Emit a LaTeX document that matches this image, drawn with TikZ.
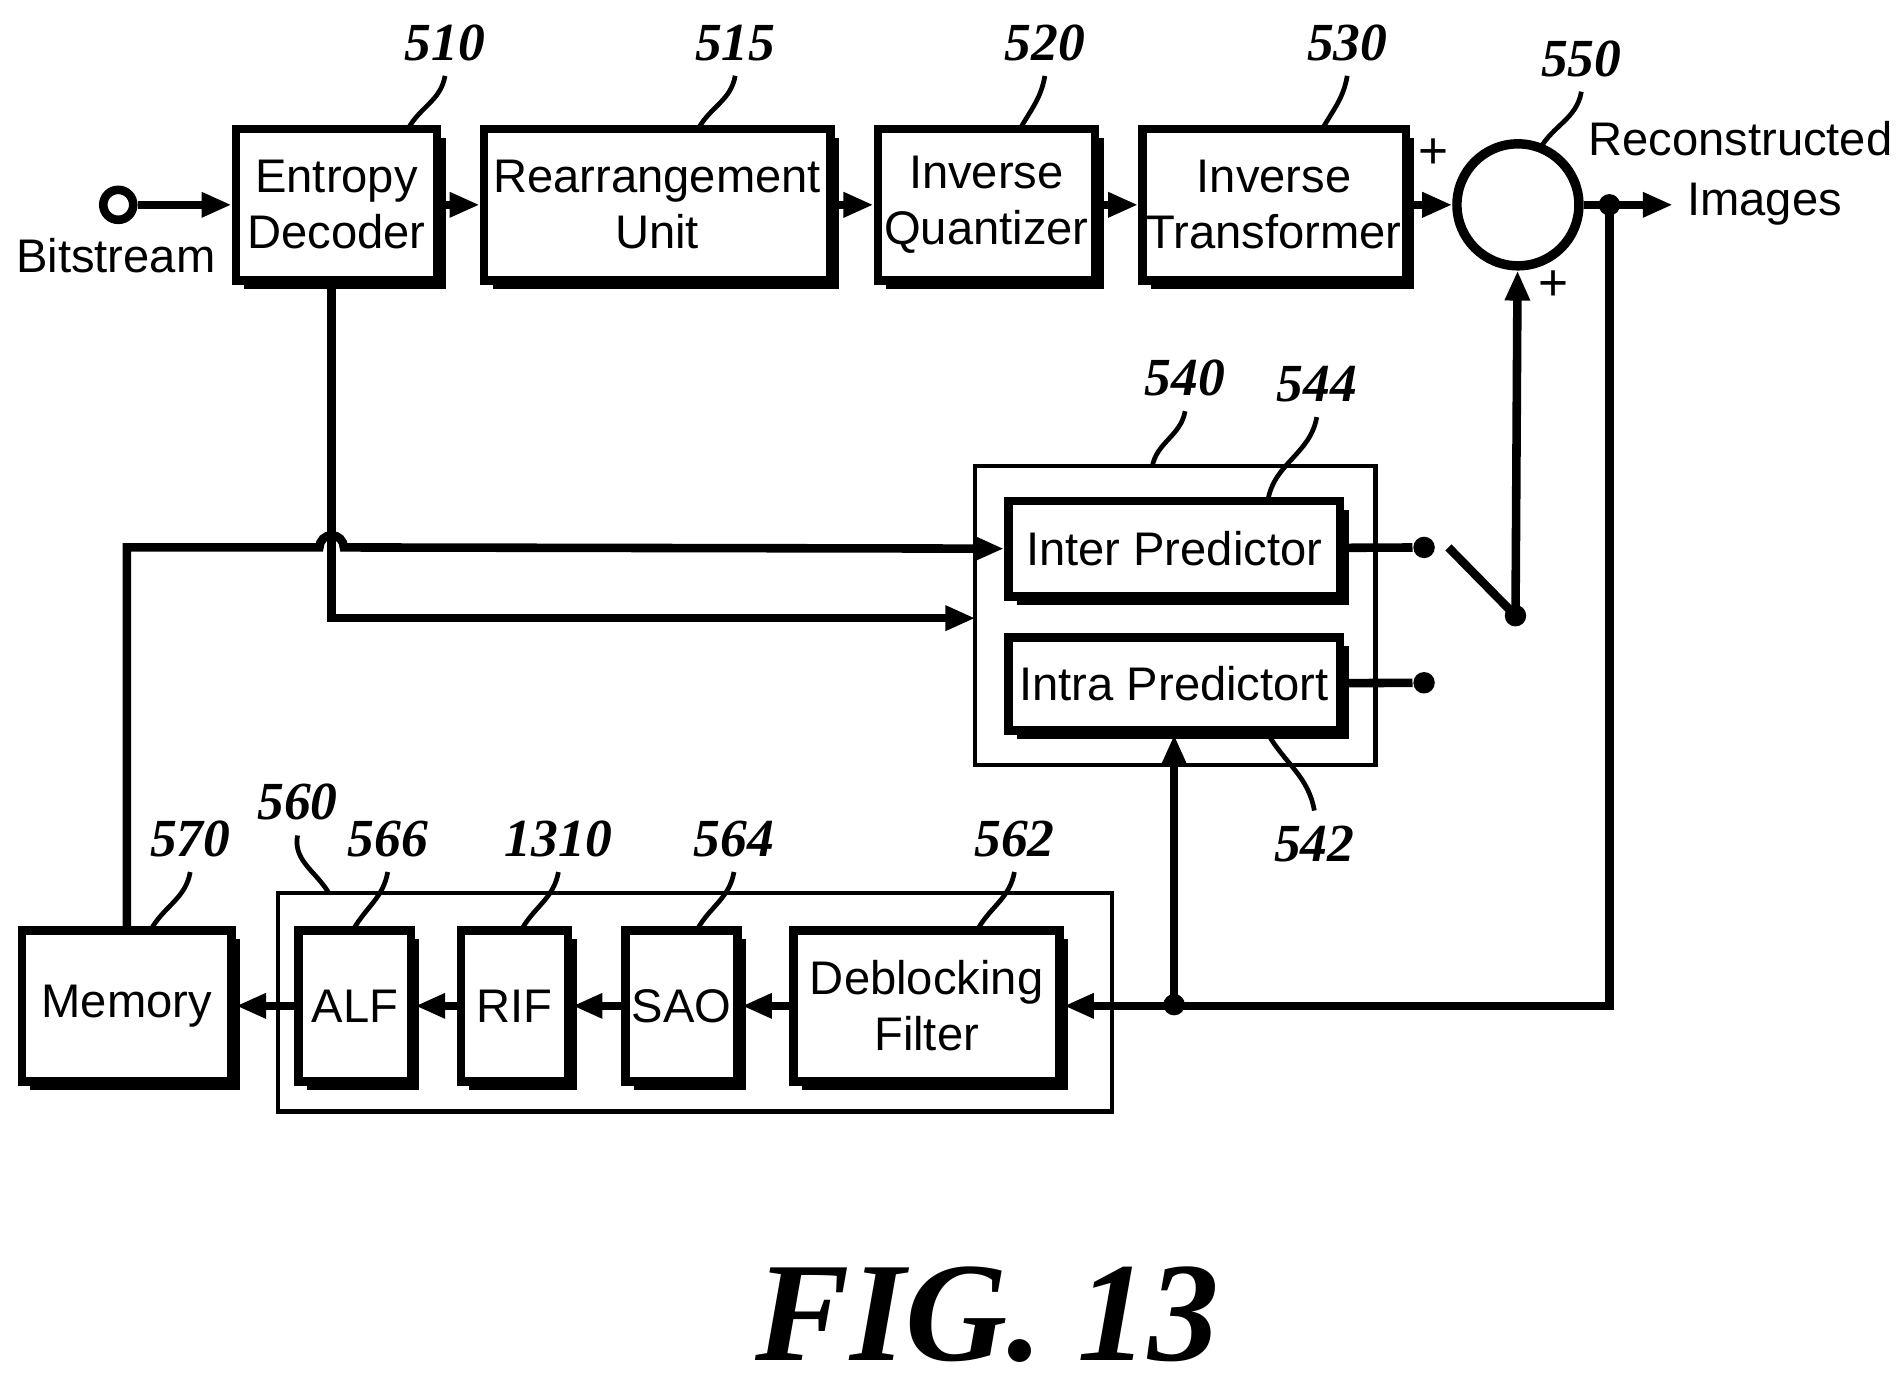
\documentclass[tikz,border=0pt]{standalone}
\usepackage{fontspec}
\setmainfont{Liberation Sans}
\newfontfamily\refnum{Liberation Serif}
\usetikzlibrary{arrows.meta,shadows}
\tikzset{
  blk/.style={draw,line width=2pt,fill=white,inner sep=0pt,align=center,
    font=\fontsize{11}{13}\selectfont,
    general shadow={fill=black,shadow xshift=2pt,shadow yshift=-2pt}},
  grp/.style={draw,line width=1pt},
  num/.style={font=\refnum\bfseries\itshape\fontsize{12.5}{13}\selectfont},
  ld/.style={line width=1.1pt},
  ln/.style={line width=2pt},
  arr/.style={ln,-{Triangle[length=7pt,width=5.5pt]}},
  dot/.style={circle,fill=black,inner sep=0pt,minimum size=5pt}
}
\begin{document}
\begin{tikzpicture}[x=0.01cm,y=-0.01cm]
  \useasboundingbox (0,0) rectangle (1560,1140);

  % upper chain
  \node[circle,draw,line width=2pt,minimum size=7pt,inner sep=0pt] (bs) at (97,168) {};
  \node[font=\fontsize{11}{13}\selectfont] (bstxt) at (95,210) {Bitstream};
  \node[blk,minimum width=1.65cm,minimum height=1.24cm] (ed) at (276,168) {Entropy\\Decoder};
  \node[blk,minimum width=2.84cm,minimum height=1.24cm] (ru) at (539,168) {Rearrangement\\Unit};
  \node[blk,minimum width=1.78cm,minimum height=1.24cm] (iq) at (809,168) {Inverse\\Quantizer};
  \node[blk,minimum width=2.16cm,minimum height=1.24cm] (it) at (1045,168) {Inverse\\Transformer};
  \node[circle,draw,line width=2.2pt,minimum size=1cm,inner sep=0pt] (sum) at (1245,168) {};
  \node[font=\fontsize{12}{12}\selectfont] (pl1) at (1176,126) {+};
  \node[font=\fontsize{12}{12}\selectfont] (pl2) at (1274,234) {+};
  \node[align=left,anchor=west,inner sep=0pt,font=\fontsize{11}{14}\selectfont] (rec) at (1302,142) {Reconstructed\\\hspace*{2.1em}Images};
  \node[dot] (jr) at (1320,168) {};
  \coordinate (recin) at (1372,168);

  % prediction
  \node[grp,minimum width=3.28cm,minimum height=2.45cm] (pred) at (964,505) {};
  \node[blk,minimum width=2.72cm,minimum height=0.78cm] (inter) at (963,450) {Inter Predictor};
  \node[blk,minimum width=2.72cm,minimum height=0.76cm] (intra) at (963,561) {Intra Predictort};
  \node[dot] (s1) at (1168,449) {};
  \node[dot] (s2) at (1168,560) {};
  \node[dot] (sw) at (1243,505) {};
  \coordinate (swt) at (1188,449);

  % filters
  \node[grp,minimum width=6.84cm,minimum height=1.79cm] (filt) at (570,822) {};
  \node[blk,minimum width=2.18cm,minimum height=1.24cm] (db) at (760,825) {Deblocking\\Filter};
  \node[blk,minimum width=0.92cm,minimum height=1.24cm] (sao) at (559,825) {SAO};
  \node[blk,minimum width=0.88cm,minimum height=1.24cm] (rif) at (422,825) {RIF};
  \node[blk,minimum width=0.92cm,minimum height=1.24cm] (alf) at (291,825) {ALF};
  \node[blk,minimum width=1.72cm,minimum height=1.24cm] (mem) at (104,825) {Memory};
  \node[dot] (jd) at (963,824) {};

  % reference numerals
  \node[num] (n510) at (365,35) {510};
  \node[num] (n515) at (603,35) {515};
  \node[num] (n520) at (857,35) {520};
  \node[num] (n530) at (1105,35) {530};
  \node[num] (n550) at (1297,48) {550};
  \node[num] (n540) at (972,310) {540};
  \node[num] (n544) at (1080,315) {544};
  \node[num] (n542) at (1078,692) {542};
  \node[num] (n560) at (244,658) {560};
  \node[num] (n570) at (156,688) {570};
  \node[num] (n566) at (318,688) {566};
  \node[num] (n1310) at (458,688) {1310};
  \node[num] (n564) at (602,688) {564};
  \node[num] (n562) at (832,688) {562};

  \draw[ld] (n510.south) to[out=-100,in=60] (335,105);
  \draw[ld] (n515.south) to[out=-100,in=60] (573,105);
  \draw[ld] (n520.south) to[out=-100,in=60] (837,105);
  \draw[ld] (n530.south) to[out=-100,in=60] (1085,105);
  \draw[ld] (n550.south) to[out=-100,in=60] (1263,122);
  \draw[ld] (n540.south) to[out=-100,in=80] (945,383);
  \draw[ld] (n544.south) to[out=-100,in=80] (1040,410);
  \draw[ld] (n542.north) to[out=100,in=-60] (1040,602);
  \draw[ld] (n560.south) to[out=-100,in=120] (270,733);
  \draw[ld] (n570.south) to[out=-100,in=60] (124,762);
  \draw[ld] (n566.south) to[out=-100,in=60] (290,762);
  \draw[ld] (n1310.south) to[out=-100,in=60] (428,762);
  \draw[ld] (n564.south) to[out=-100,in=60] (572,762);
  \draw[ld] (n562.south) to[out=-100,in=60] (802,762);

  % connectors
  \draw[arr] (bs) -- (ed);
  \draw[arr] (ed) -- (ru);
  \draw[arr] (ru) -- (iq);
  \draw[arr] (iq) -- (it);
  \draw[arr] (it) -- (sum);
  \draw[ln] (sum) -- (jr.center);
  \draw[arr] (jr.center) -- (recin);
  \draw[ln] (inter) -- (s1);
  \draw[ln] (intra) -- (s2);
  \draw[ln] (swt) -- (sw.center);
  \draw[arr] (sw.center) -- (sum);
  \draw[arr] (ed.south -| 272,0) |- (800,507);
  \draw[arr] (mem.north) |- (262,449) arc[start angle=180,end angle=0,radius=0.1cm] -- (inter.west);
  \draw[arr] (jr.center) |- (db.east);
  \draw[arr] (jd.center) -- (intra.south);
  \draw[arr] (db) -- (sao);
  \draw[arr] (sao) -- (rif);
  \draw[arr] (rif) -- (alf);
  \draw[arr] (alf) -- (mem);

  \node[font=\refnum\bfseries\itshape\fontsize{33}{33}\selectfont] (fig) at (810,1078) {FIG. 13};
\end{tikzpicture}
\end{document}
